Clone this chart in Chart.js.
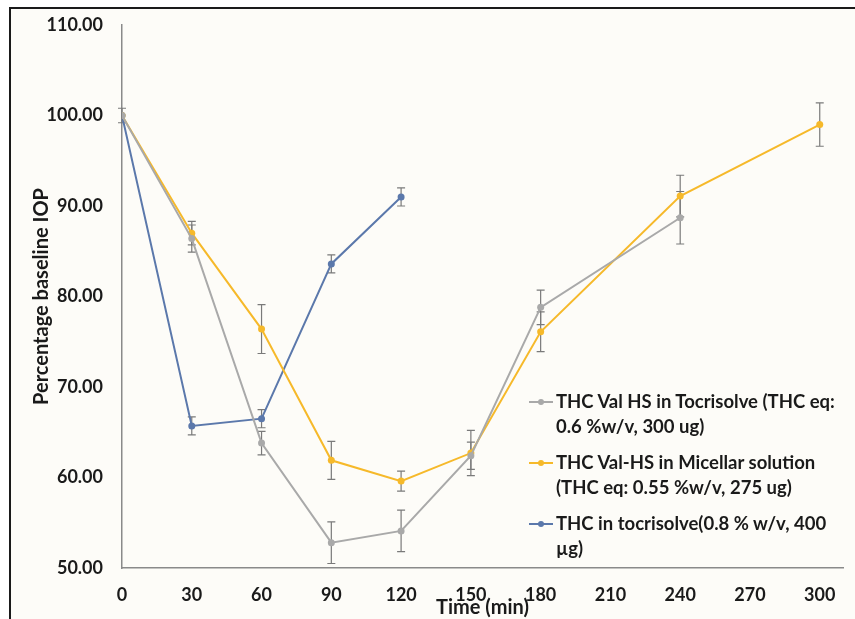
<!DOCTYPE html>
<html>
<head>
<meta charset="utf-8">
<script src="https://cdn.jsdelivr.net/npm/chart.js@4.4.1/dist/chart.umd.min.js"></script>
<style>
  html, body { margin: 0; padding: 0; background: #ffffff; }
  #wrap { position: relative; width: 855px; height: 619px; overflow: hidden; }
  #frame { position: absolute; left: 9px; top: 7px; right: -5px; bottom: -5px;
           border-left: 2px solid #1a1a1a; border-top: 2px solid #1a1a1a; background: #fdfcf8; }
  #myChart { position: absolute; left: 0; top: 0; }
  .legend { position: absolute; left: 529px; top: 389px; font: bold 18.5px Lato, sans-serif; color: #1a1a1a; }
  .item { position: relative; padding-left: 27px; line-height: 25px; margin-bottom: 11px; white-space: nowrap; }
  .item .mk { position: absolute; left: 0; top: 12px; width: 24px; height: 2px; }
  .item .dot { position: absolute; left: 9px; top: -2px; width: 6px; height: 6px; border-radius: 50%; }
</style>
</head>
<body>
<div id="wrap">
  <div id="frame"></div>
  <canvas id="myChart" width="855" height="619"></canvas>
  <div class="legend" id="legend"></div>
</div>
<script>
// time points (min)
const timeGray = [0, 30, 60, 90, 120, 150, 180, 240];
const timeYellow = [0, 30, 60, 90, 120, 150, 180, 240, 300];
const timeBlue = [0, 30, 60, 90, 120];

// % baseline IOP
const grayValues = [100, 86.4, 63.8, 52.8, 54.1, 62.4, 78.8, 88.7];
const grayErr = [0.8, 1.5, 1.3, 2.3, 2.3, 1.5, 1.9, 2.9];

const yellowValues = [100, 87.0, 76.4, 61.9, 59.6, 62.7, 76.1, 91.1, 99.0];
const yellowErr = [0, 1.3, 2.7, 2.1, 1.1, 2.5, 2.2, 2.3, 2.4];

const blueValues = [100, 65.7, 66.5, 83.6, 91.0];
const blueErr = [0, 1.0, 1.0, 1.0, 1.0];

const xTicks = [0, 30, 60, 90, 120, 150, 180, 210, 240, 270, 300];

const legends = [
    ['THC Val HS in Tocrisolve (THC eq:', '0.6 %w/v, 300 ug)'],
    ['THC Val-HS in Micellar solution', '(THC eq: 0.55 %w/v, 275 ug)'],
    ['THC in tocrisolve(0.8 % w/v, 400', '\u00b5g)']
];

var grayColor = '#a9a9a9';
var yellowColor = '#f6b92a';
var blueColor = '#5b78ab';
var axisColor = '#8a8a8a';
var font = 'Lato, sans-serif';

function toPoints(xs, ys) {
    return xs.map(function (x, i) { return { x: x, y: ys[i] }; });
}

function makeSet(label, xs, ys, errs, color) {
    return {
        label: label,
        data: toPoints(xs, ys),
        errors: errs,
        borderColor: color,
        backgroundColor: color,
        borderWidth: 2,
        pointRadius: 3.5,
        pointBorderWidth: 0,
        showLine: true,
        tension: 0
    };
}

// error bars drawn through the scales
const errorBars = {
    id: 'errorBars',
    beforeDatasetsDraw(chart) {
        const ctx = chart.ctx;
        const xs = chart.scales.x, ys = chart.scales.y;
        ctx.save();
        ctx.strokeStyle = '#7a7a7a';
        ctx.lineWidth = 1.2;
        chart.data.datasets.forEach(function (ds) {
            ds.data.forEach(function (p, i) {
                const e = ds.errors[i];
                if (!e) return;
                const px = xs.getPixelForValue(p.x);
                const top = ys.getPixelForValue(p.y + e);
                const bot = ys.getPixelForValue(p.y - e);
                ctx.beginPath();
                ctx.moveTo(px, top); ctx.lineTo(px, bot);
                ctx.moveTo(px - 4, top); ctx.lineTo(px + 4, top);
                ctx.moveTo(px - 4, bot); ctx.lineTo(px + 4, bot);
                ctx.stroke();
            });
        });
        ctx.restore();
    }
};

const data = {
    datasets: [
        makeSet(legends[0].join(' '), timeGray, grayValues, grayErr, grayColor),
        makeSet(legends[1].join(' '), timeYellow, yellowValues, yellowErr, yellowColor),
        makeSet(legends[2].join(' '), timeBlue, blueValues, blueErr, blueColor)
    ]
};

const config = {
    type: 'scatter',
    data: data,
    options: {
        responsive: false,
        animation: false,
        layout: { padding: { left: 0, top: 25, right: 12, bottom: 0 } },
        plugins: {
            legend: { display: false },
            tooltip: { enabled: false }
        },
        scales: {
            x: {
                type: 'linear',
                min: 0,
                max: 310,
                afterBuildTicks: function (scale) {
                    scale.ticks = xTicks.map(function (v) { return { value: v }; });
                },
                afterFit: function (scale) { scale.height = 51; },
                grid: { display: false, drawTicks: false },
                border: { display: true, color: axisColor, width: 1.5 },
                ticks: {
                    padding: 16,
                    color: '#1a1a1a',
                    font: { family: font, size: 18, weight: 'bold' },
                    maxRotation: 0,
                    autoSkip: false
                },
                title: {
                    display: true,
                    text: 'Time (min)',
                    color: '#1a1a1a',
                    font: { family: font, size: 20, weight: 'bold', lineHeight: 1.2 },
                    padding: { top: 0, bottom: -1 }
                }
            },
            y: {
                min: 50,
                max: 110,
                afterFit: function (scale) {
                    scale.width = 122;
                    scale.paddingTop = 0;
                    scale.paddingBottom = 0;
                },
                grid: { display: false, drawTicks: false },
                border: { display: true, color: axisColor, width: 1.5 },
                ticks: {
                    stepSize: 10,
                    padding: 19,
                    color: '#1a1a1a',
                    font: { family: font, size: 18, weight: 'bold' },
                    callback: function (v) { return v.toFixed(2); }
                },
                title: {
                    display: true,
                    text: 'Percentage baseline IOP',
                    color: '#1a1a1a',
                    font: { family: font, size: 20, weight: 'bold', lineHeight: 1.2 },
                    padding: { top: 30, bottom: 0 }
                }
            }
        }
    },
    plugins: [errorBars]
};

var myChart = new Chart(document.getElementById('myChart'), config);

// legend
var colors = [grayColor, yellowColor, blueColor];
var legendBox = document.getElementById('legend');
legends.forEach(function (lines, i) {
    var item = document.createElement('div');
    item.className = 'item';
    item.innerHTML = '<span class="mk" style="background:' + colors[i] + '"><span class="dot" style="background:' + colors[i] + '"></span></span>' + lines.join('<br>');
    legendBox.appendChild(item);
});
</script>
</body>
</html>
